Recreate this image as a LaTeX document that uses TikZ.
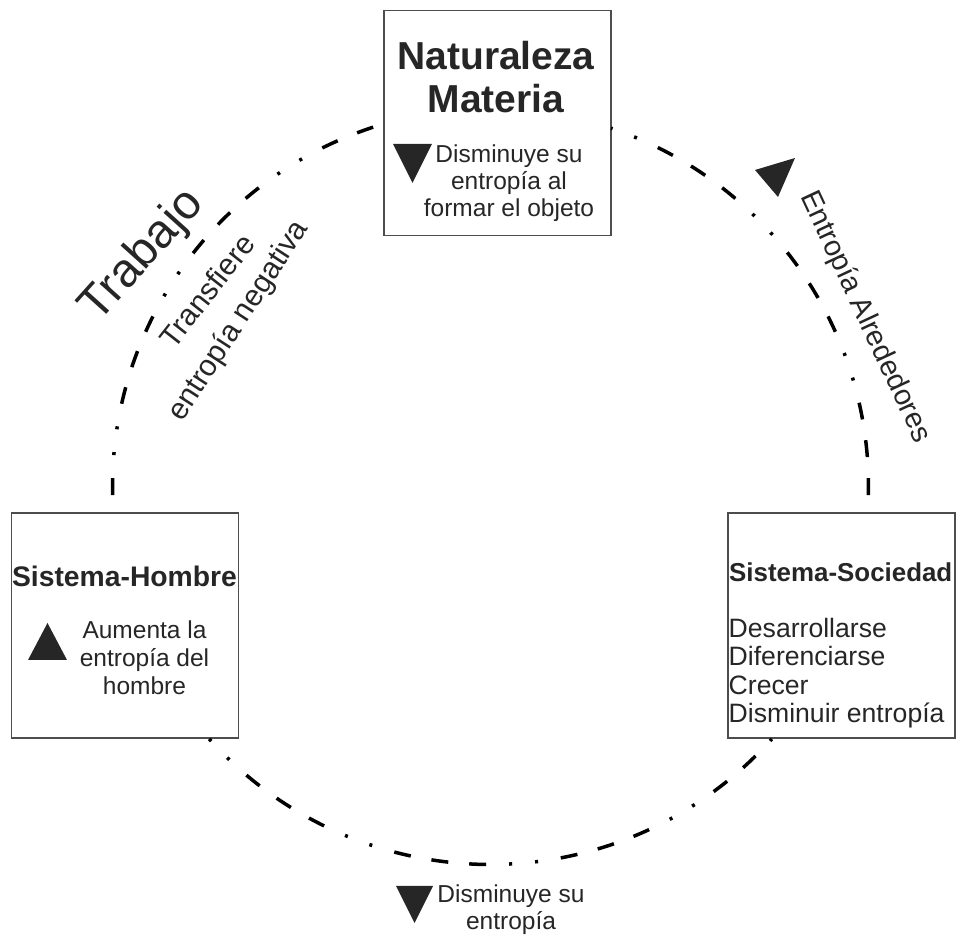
\documentclass[tikz,border=0pt]{standalone}
\usepackage{fontspec}
\setmainfont{Liberation Sans}
\usetikzlibrary{positioning}
\definecolor{Ink}{HTML}{262626}
\definecolor{Frame}{HTML}{4D4D4D}

\begin{document}
\begin{tikzpicture}[x=1pt,y=1pt,
    box/.style={draw=Frame,line width=1.3pt,inner sep=0pt,minimum width=227pt,minimum height=225pt},
    cyclepath/.style={line width=3.5pt,dash pattern=on 17pt off 23pt on 3pt off 23pt on 3pt off 23pt on 17pt off 21pt on 17pt off 21pt},
    body/.style={text=Ink,inner sep=0pt,anchor=base,font=\fontsize{24.5}{27.5}\selectfont},
    head/.style={text=Ink,inner sep=0pt,anchor=base,font=\fontsize{28.3}{32}\selectfont\bfseries},
    slanted/.style={text=Ink,inner sep=0pt,font=\fontsize{30}{35}\selectfont}]
    \useasboundingbox (0,0) rectangle (958,936);

    % the three systems
    \node[box] (nat) at (497.5,813) {};
    \node[box] (hom) at (125,310.5) {};
    \node[box] (soc) at (841.5,310.5) {};

    % dash-dot cycle round the systems
    \coordinate (hub) at (490.5,449.5);
    \draw[cyclepath] ([shift={(181.3:378)}]hub) arc[start angle=181.3,end angle=106.4,radius=378];
    \draw[cyclepath,dash phase=92pt] ([shift={(-1.3:378)}]hub) arc[start angle=-1.3,end angle=71.4,radius=378];
    \draw[cyclepath,dash phase=40pt] ([shift={(221.9:378)}]hub) arc[start angle=221.9,end angle=318.1,radius=378];

    % Naturaleza
    \node[head,font=\fontsize{39}{43}\selectfont\bfseries] (natA) at (496,866) {Naturaleza};
    \node[head,font=\fontsize{39}{43}\selectfont\bfseries] (natB) at (496,823) {Materia};
    \fill[Ink] (393,792) -- (432,792) -- (412.5,753) -- cycle;
    \foreach \y/\t [count=\i] in {773/Disminuye su,746/entropía al,719/formar el objeto}
      {\node[body] (natT\i) at (509,\y) {\t};}

    % Sistema-Hombre
    \node[head] (homA) at (124.5,349) {Sistema-Hombre};
    \fill[Ink] (28,276) -- (67,276) -- (47.5,313) -- cycle;
    \foreach \y/\t [count=\i] in {297/Aumenta la,269/entropía del,241/hombre}
      {\node[body] (homT\i) at (144.5,\y) {\t};}

    % Sistema-Sociedad
    \node[head,anchor=base west,font=\fontsize{25.9}{30}\selectfont\bfseries] (socA) at (729,354.3) {Sistema-Sociedad};
    \foreach \y/\t [count=\i] in {298.7/Desarrollarse,270/Diferenciarse,241.5/Crecer,213.3/Disminuir entropía}
      {\node[body,anchor=base west,font=\fontsize{26.6}{29}\selectfont] (socT\i) at (728.5,\y) {\t};}

    % bottom of the cycle
    \fill[Ink] (396,50) -- (433,50) -- (414.5,13) -- cycle;
    \node[body] (botA) at (511,33) {Disminuye su};
    \node[body] (botB) at (511,6) {entropía};

    % labels along the arcs
    \node[slanted,rotate=48,font=\fontsize{47.5}{55}\selectfont] (trab) at (142.5,680) {Trabajo};
    \node[slanted,rotate=52] (transA) at (207,645) {Transfiere};
    \node[slanted,rotate=57] (transB) at (239,615) {entropía negativa};
    \fill[Ink] (755,766) -- (795,778) -- (778,739) -- cycle;
    \node[slanted,rotate=-65,font=\fontsize{29}{34}\selectfont] (alre) at (865,619) {Entropía Alrededores};
\end{tikzpicture}
\end{document}
